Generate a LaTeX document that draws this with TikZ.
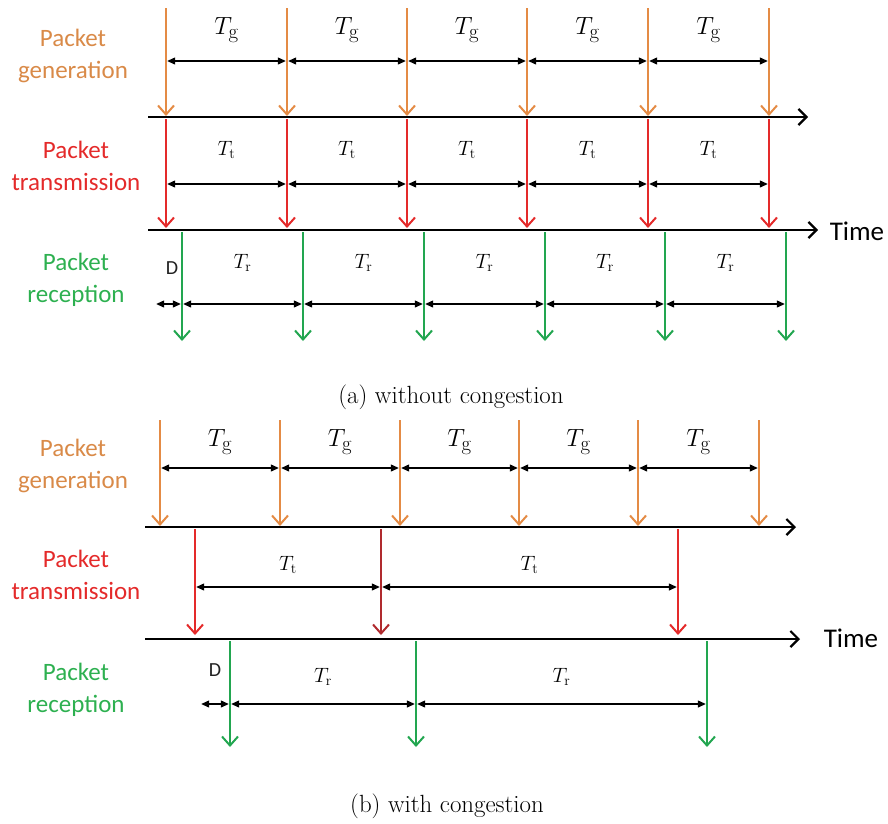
\documentclass[tikz,border=0pt]{standalone}
\usepackage{xcolor}
\usepackage{fontspec}
\usepackage{tikz}
\usetikzlibrary{arrows.meta, positioning, calc}
\newfontfamily\calfont{Carlito}
\definecolor{genorange}{HTML}{E48B45}
\definecolor{gentext}{HTML}{D98A48}
\definecolor{txred}{HTML}{E42A2A}
\definecolor{txdark}{HTML}{B02A2E}
\definecolor{rxgreen}{HTML}{22A650}
\definecolor{rxtext}{HTML}{2DB050}
\definecolor{dink}{HTML}{222222}

\begin{document}
\begin{tikzpicture}[x=1pt, y=-1pt,
        genline/.style={genorange, line width=2.2pt, -{Straight Barb[length=9pt,width=16pt,line width=2pt]}},
        txline/.style={txred, line width=2.2pt, -{Straight Barb[length=9pt,width=16pt,line width=2pt]}},
        rxline/.style={rxgreen, line width=2.2pt, -{Straight Barb[length=9pt,width=16pt,line width=2pt]}},
        axis/.style={black, line width=2.5pt, -{Straight Barb[length=8pt,width=16pt,line width=2.2pt]}},
        dim/.style={black, line width=1.2pt, {Triangle[length=8pt,width=7pt]}-{Triangle[length=8pt,width=7pt]}, shorten <=1.2pt, shorten >=1.2pt},
        rowlab/.style={font=\calfont\fontsize{25}{32}\selectfont, align=center},
        timelab/.style={font=\calfont\fontsize{27}{30}\selectfont, text=black},
        dlab/.style={font=\calfont\fontsize{20}{24}\selectfont, text=dink},
        glab/.style={font=\fontsize{24.88}{28}\selectfont},
        tlab/.style={font=\fontsize{20.74}{24}\selectfont},
        caption/.style={font=\fontsize{24.88}{28}\selectfont}
    ]
        \useasboundingbox (0,0) rectangle (888,823);

        % (a) without congestion
        \node (agen) [rowlab, text=gentext] at (73,56) {Packet\\generation};
        \node (atx) [rowlab, text=txred] at (76,166) {Packet\\transmission};
        \node (arx) [rowlab, text=rxtext] at (76,280) {Packet\\reception};

        \coordinate (aax1s) at (148,117);
        \coordinate (aax1e) at (808,117);
        \coordinate (aax2s) at (148,230);
        \coordinate (aax2e) at (818,230);
        \draw [axis] (aax1s) -- (aax1e);
        \draw [axis] (aax2s) -- (aax2e);
        \node (atime) [timelab] at (857,231) {Time};

        \foreach \i/\x in {1/166,2/287,3/407,4/527,5/648,6/769} {
            \coordinate (agt\i) at (\x,8);
            \coordinate (agb\i) at (\x,116);
            \coordinate (agd\i) at (\x,61);
            \coordinate (att\i) at (\x,119);
            \coordinate (atb\i) at (\x,228);
            \coordinate (atd\i) at (\x,184);
            \draw [genline] (agt\i) -- (agb\i);
            \draw [txline] (att\i) -- (atb\i);
        }
        \foreach \i/\x in {1/182,2/303,3/424,4/545,5/665,6/786} {
            \coordinate (art\i) at (\x,232);
            \coordinate (arb\i) at (\x,341);
            \coordinate (ard\i) at (\x,304);
            \draw [rxline] (art\i) -- (arb\i);
        }
        \foreach \i [count=\j from 2] in {1,...,5} {
            \draw [dim] (agd\i) -- node[glab, yshift=31pt] {$T_{\mathrm{g}}$} (agd\j);
            \draw [dim] (atd\i) -- node[tlab, yshift=34pt] {$T_{\mathrm{t}}$} (atd\j);
            \draw [dim] (ard\i) -- node[tlab, yshift=41pt] {$T_{\mathrm{r}}$} (ard\j);
        }
        \coordinate (adl) at (155,304);
        \draw [dim] (adl) -- (ard1);
        \node (ad) [dlab] at (172,268) {D};

        \node (capa) [caption] at (451,397) {(a) without congestion};

        % (b) with congestion
        \node (bgen) [rowlab, text=gentext] at (73,466) {Packet\\generation};
        \node (btx) [rowlab, text=txred] at (76,575) {Packet\\transmission};
        \node (brx) [rowlab, text=rxtext] at (76,690) {Packet\\reception};

        \coordinate (bax1s) at (145,527);
        \coordinate (bax1e) at (796,527);
        \coordinate (bax2s) at (145,639);
        \coordinate (bax2e) at (800,639);
        \draw [axis] (bax1s) -- (bax1e);
        \draw [axis] (bax2s) -- (bax2e);
        \node (btime) [timelab] at (851,638) {Time};

        \foreach \i/\x in {1/160,2/280,3/400,4/519,5/638,6/759} {
            \coordinate (bgt\i) at (\x,420);
            \coordinate (bgb\i) at (\x,526);
            \coordinate (bgd\i) at (\x,468);
            \draw [genline] (bgt\i) -- (bgb\i);
        }
        \foreach \i/\x/\c in {1/195/txred,2/381/txdark,3/678/txred} {
            \coordinate (btt\i) at (\x,529);
            \coordinate (btb\i) at (\x,635);
            \coordinate (btd\i) at (\x,587);
            \draw [txline, \c] (btt\i) -- (btb\i);
        }
        \foreach \i/\x in {1/230,2/416,3/707} {
            \coordinate (brt\i) at (\x,641);
            \coordinate (brb\i) at (\x,747);
            \coordinate (brd\i) at (\x,704);
            \draw [rxline] (brt\i) -- (brb\i);
        }
        \foreach \i [count=\j from 2] in {1,...,5} {
            \draw [dim] (bgd\i) -- node[glab, yshift=26pt] {$T_{\mathrm{g}}$} (bgd\j);
        }
        \foreach \i [count=\j from 2] in {1,2} {
            \draw [dim] (btd\i) -- node[tlab, yshift=22pt] {$T_{\mathrm{t}}$} (btd\j);
            \draw [dim] (brd\i) -- node[tlab, yshift=27pt] {$T_{\mathrm{r}}$} (brd\j);
        }
        \coordinate (bdl) at (200,704);
        \draw [dim] (bdl) -- (brd1);
        \node (bd) [dlab] at (215,670) {D};

        \node (capb) [caption] at (447,806) {(b) with congestion};
    \end{tikzpicture}
\end{document}
